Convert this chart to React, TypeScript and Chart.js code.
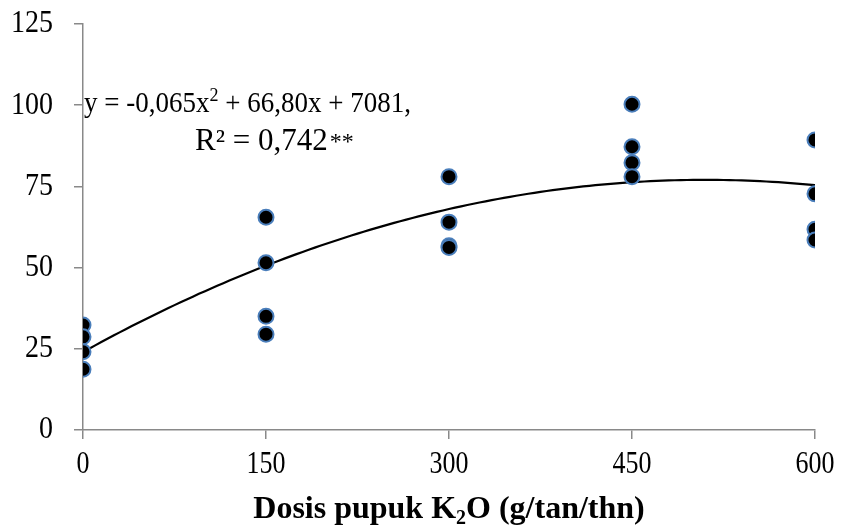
import React, { useEffect, useRef } from 'react';
import { Chart, registerables } from 'chart.js';

Chart.register(...registerables);

const doses = [0, 150, 300, 450, 600];
const rep1 = [32.3, 65.5, 78.0, 100.3, 89.3];
const rep2 = [28.7, 51.5, 64.0, 87.2, 72.7];
const rep3 = [24.1, 35.0, 56.7, 82.3, 61.8];
const rep4 = [18.7, 29.5, 56.2, 78.0, 58.5];
const trendCoef = [24.0, 0.2079, -0.0002038];
const xTickValues = [0, 150, 300, 450, 600];
const yTickValues = [0, 25, 50, 75, 100, 125];
const eqLine1a = 'y = -0,065x';
const eqLine1sup = '2';
const eqLine1b = ' + 66,80x + 7081,';
const eqLine2a = 'R² = 0,742';
const eqLine2b = '**';
const titleA = 'Dosis pupuk K';
const titleSub = '2';
const titleB = 'O (g/tan/thn)';

const SERIF = '"Liberation Serif", "Times New Roman", serif';
const AXIS_COLOR = '#898989';

export default function App() {
  const ref = useRef<HTMLCanvasElement>(null);

  useEffect(() => {
    document.body.style.margin = '0';
    const canvas = ref.current;
    if (!canvas) return;

    const points: { x: number; y: number }[] = [];
    [rep1, rep2, rep3, rep4].forEach((rep) =>
      rep.forEach((v, i) => points.push({ x: doses[i], y: v }))
    );
    const curve: { x: number; y: number }[] = [];
    for (let x = doses[0]; x <= doses[doses.length - 1]; x += 5) {
      curve.push({ x, y: trendCoef[0] + trendCoef[1] * x + trendCoef[2] * x * x });
    }

    const drawStretched = (
      ctx: CanvasRenderingContext2D,
      text: string,
      x: number,
      y: number,
      sy: number
    ) => {
      ctx.save();
      ctx.translate(x, y);
      ctx.scale(1, sy);
      ctx.fillText(text, 0, 0);
      ctx.restore();
    };

    const textPlugin = {
      id: 'textPlugin',
      afterDraw(chart: any) {
        const ctx = chart.ctx as CanvasRenderingContext2D;
        const xs = chart.scales.x;
        const ys = chart.scales.y;
        ctx.save();
        ctx.fillStyle = '#000';

        // y tick labels
        ctx.font = `28px ${SERIF}`;
        ctx.textAlign = 'right';
        ctx.textBaseline = 'middle';
        yTickValues.forEach((v) => {
          drawStretched(ctx, String(v), 53, ys.getPixelForValue(v), 1.15);
        });
        // x tick labels
        ctx.font = `26px ${SERIF}`;
        ctx.textAlign = 'center';
        xTickValues.forEach((v) => {
          drawStretched(ctx, String(v), xs.getPixelForValue(v), 465, 1.22);
        });

        ctx.textBaseline = 'alphabetic';
        ctx.textAlign = 'left';
        // equation line 1
        let x = 84;
        ctx.font = `27px ${SERIF}`;
        drawStretched(ctx, eqLine1a, x, 112, 1.08);
        x += ctx.measureText(eqLine1a).width;
        ctx.font = `18px ${SERIF}`;
        drawStretched(ctx, eqLine1sup, x, 101, 1.08);
        x += ctx.measureText(eqLine1sup).width;
        ctx.font = `27px ${SERIF}`;
        drawStretched(ctx, eqLine1b, x, 112, 1.08);
        // equation line 2
        x = 195;
        ctx.font = `31px ${SERIF}`;
        drawStretched(ctx, eqLine2a, x, 150, 1.0);
        x += ctx.measureText(eqLine2a).width + 2;
        ctx.font = `24px ${SERIF}`;
        drawStretched(ctx, eqLine2b, x, 149, 1.0);

        // axis title
        ctx.font = `bold 32px ${SERIF}`;
        const wA = ctx.measureText(titleA).width;
        const wB = ctx.measureText(titleB).width;
        ctx.font = `bold 20px ${SERIF}`;
        const wS = ctx.measureText(titleSub).width;
        const total = wA + wS + wB;
        let tx = 449 - total / 2;
        ctx.font = `bold 32px ${SERIF}`;
        ctx.fillText(titleA, tx, 518);
        tx += wA;
        ctx.font = `bold 20px ${SERIF}`;
        ctx.fillText(titleSub, tx, 524);
        tx += wS;
        ctx.font = `bold 32px ${SERIF}`;
        ctx.fillText(titleB, tx, 518);
        ctx.restore();
      },
    };

    const gridOpts = {
      display: true,
      drawOnChartArea: false,
      drawTicks: true,
      tickLength: 9,
      color: AXIS_COLOR,
      lineWidth: 1.5,
    };

    const chart = new Chart(canvas, {
      type: 'scatter',
      data: {
        datasets: [
          {
            label: 'data',
            data: points,
            order: 0,
            pointRadius: 7.5,
            pointHoverRadius: 7.5,
            backgroundColor: '#000000',
            borderColor: '#4a7ebb',
            borderWidth: 2,
            showLine: false,
          },
          {
            label: 'trend',
            data: curve,
            order: 1,
            showLine: true,
            pointRadius: 0,
            borderColor: '#000000',
            borderWidth: 2.2,
            tension: 0,
            fill: false,
          },
        ],
      },
      options: {
        animation: false,
        responsive: false,
        maintainAspectRatio: false,
        layout: { padding: { top: 24, right: 26, left: 0, bottom: 0 } },
        plugins: {
          legend: { display: false },
          tooltip: { enabled: false },
        },
        scales: {
          x: {
            type: 'linear',
            min: 0,
            max: 600,
            afterFit: (s: any) => {
              s.height = 101;
            },
            afterBuildTicks: (s: any) => {
              s.ticks = xTickValues.map((v) => ({ value: v }));
            },
            ticks: { display: false },
            grid: gridOpts,
            border: { display: true, color: AXIS_COLOR, width: 1.5 },
          },
          y: {
            type: 'linear',
            min: 0,
            max: 125,
            afterFit: (s: any) => {
              s.width = 83;
            },
            afterBuildTicks: (s: any) => {
              s.ticks = yTickValues.map((v) => ({ value: v }));
            },
            ticks: { display: false },
            grid: gridOpts,
            border: { display: true, color: AXIS_COLOR, width: 1.5 },
          },
        },
      },
      plugins: [textPlugin],
    });

    return () => chart.destroy();
  }, []);

  return (
    <div style={{ position: 'absolute', left: 0, top: 0, width: 841, height: 531 }}>
      <canvas ref={ref} width={841} height={531} style={{ display: 'block' }} />
    </div>
  );
}
